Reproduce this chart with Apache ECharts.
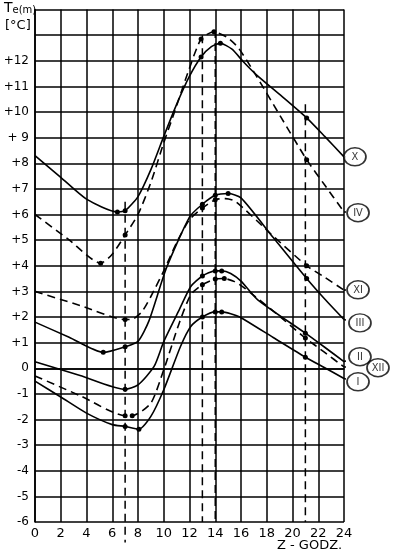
<!DOCTYPE html>
<html>
<head>
<meta charset="utf-8">
<script src="https://cdn.jsdelivr.net/npm/echarts@6/dist/echarts.min.js"></script>
<style>html,body{margin:0;padding:0;background:#fff}#c{width:395px;height:556px}</style>
</head>
<body>
<div id="c"></div>
<script>
// ---- data ----
const xTickLabels = ['0','2','4','6','8','10','12','14','16','18','20','22','24'];
const yTickLabels = ['-6','-5','-4','-3','-2','-1','0','+1','+2','+3','+4','+5','+6','+7','+8','+ 9','+10','+11','+12','',''];

const xX  = [0, 2, 4, 6.4, 7, 8, 9, 10, 11, 12, 12.9, 13.7, 14.4, 15.3, 16.2, 17.2, 19.2, 21.1, 22.5, 24];
const yX  = [8.3, 7.45, 6.6, 6.1, 6.15, 6.7, 7.75, 9.05, 10.3, 11.4, 12.15, 12.55, 12.68, 12.45, 11.95, 11.45, 10.6, 9.77, 9.05, 8.25];
const mX  = [6.4, 7, 12.9, 14.4, 21.1];

const xIV = [0, 2.55, 5.1, 6, 7, 8, 9, 10, 10.8, 11.85, 12.9, 13.9, 14.9, 15.8, 17.2, 19.1, 21.1, 22.5, 24];
const yIV = [6.0, 5.05, 4.1, 4.45, 5.2, 6.0, 7.25, 8.8, 9.95, 11.5, 12.85, 13.13, 12.92, 12.5, 11.4, 9.8, 8.14, 7.15, 6.1];
const mIV = [5.1, 7, 12.9, 13.9, 21.1];

const xXI = [0, 3.5, 7, 7.6, 8.3, 9, 10, 11, 12, 13, 14, 14.8, 15.6, 18.3, 21.1, 22.5, 24];
const yXI = [3.0, 2.45, 1.9, 1.92, 2.2, 2.8, 3.8, 4.9, 5.8, 6.25, 6.58, 6.62, 6.5, 5.25, 4.0, 3.55, 3.05];
const mXI = [7, 13, 14, 21.1];

const xIII = [0, 2.65, 5.3, 7, 8, 8.85, 10.2, 12, 13, 14, 15, 16, 18.5, 21.1, 22.5, 24];
const yIII = [1.8, 1.21, 0.62, 0.84, 1.05, 1.85, 3.9, 5.9, 6.4, 6.75, 6.82, 6.65, 5.1, 3.5, 2.7, 1.9];
const mIII = [5.3, 7, 13, 14, 15, 21.1];

const xII = [0, 3.5, 7, 8, 9.25, 10, 11.2, 12.1, 13, 14, 14.5, 15.2, 16, 17.3, 21, 22.5, 24];
const yII = [0.25, -0.28, -0.82, -0.65, 0.07, 1.04, 2.28, 3.19, 3.6, 3.8, 3.8, 3.7, 3.4, 2.67, 1.37, 0.82, 0.26];
const mII = [7, 13, 14, 14.5, 21];

const xXII = [0, 3.5, 7, 7.55, 9, 10, 11.2, 12.1, 13, 14, 14.7, 15.5, 16.3, 18.7, 21, 22.5, 24];
const yXII = [-0.3, -1.07, -1.85, -1.85, -1.36, -0.06, 1.76, 2.87, 3.26, 3.48, 3.5, 3.38, 3.12, 2.15, 1.18, 0.62, 0.05];
const mXII = [7, 7.55, 13, 14, 14.7, 21];

const xI = [0, 2, 4, 6, 7, 8.07, 9, 10, 11.3, 12.1, 13, 14, 14.5, 15.2, 15.9, 18.5, 21, 22.5, 24];
const yI = [-0.5, -1.12, -1.75, -2.2, -2.27, -2.38, -1.88, -0.84, 0.85, 1.63, 2.0, 2.2, 2.2, 2.13, 2.0, 1.2, 0.43, 0.02, -0.4];
const mI = [7, 8.07, 13, 14, 14.5, 21];

// month labels (circles at the right end)
const labelNames = ['X', 'IV', 'XI', 'III', 'II', 'XII', 'I'];
const labelX = [24.85, 25.09, 25.09, 25.24, 25.24, 26.64, 25.09];
const labelY = [8.25, 6.07, 3.06, 1.77, 0.45, 0.02, -0.53];

// vertical dashed reference lines
const refX = [7, 13, 14, 21];
const refTop = [6.5, 13.0, 13.2, 10.3];
const refBottom = [-6.8, -6, -6, -6];

// ---- chart ----
const DASH = [8, 5];
const series = [];
function curve(xs, ys, marks, dashed, li) {
  const data = xs.map((x, i) => {
    const m = marks.indexOf(x) >= 0;
    return {value: [x, ys[i]], symbol: m ? 'circle' : 'none', symbolSize: m ? 5 : 0};
  });
  const ls = {color: '#000', width: 1.6, type: dashed ? DASH : 'solid'};
  series.push({
    type: 'line', data: data, smooth: 0.22, clip: false, showSymbol: true,
    itemStyle: {color: '#000'}, lineStyle: ls, z: 3
  });
  // connector from the end of the curve to its label circle
  series.push({
    type: 'line', data: [[xs[xs.length - 1], ys[ys.length - 1]], [labelX[li], labelY[li]]],
    symbol: 'none', clip: false, lineStyle: ls, z: 3
  });
}
curve(xX, yX, mX, false, 0);
curve(xIV, yIV, mIV, true, 1);
curve(xXI, yXI, mXI, true, 2);
curve(xIII, yIII, mIII, false, 3);
curve(xII, yII, mII, false, 4);
curve(xXII, yXII, mXII, true, 5);
curve(xI, yI, mI, false, 6);

refX.forEach((x, i) => {
  series.push({
    type: 'line', data: [[x, refTop[i]], [x, refBottom[i]]], symbol: 'none', clip: false,
    lineStyle: {color: '#000', width: 1.5, type: DASH}, z: 2
  });
});
series.push({
  type: 'scatter', clip: false, z: 5,
  data: labelNames.map((n, i) => ({value: [labelX[i], labelY[i]], name: n})),
  symbol: 'circle', symbolSize: [22, 18],
  itemStyle: {color: '#fff', borderColor: '#000', borderWidth: 1.6},
  label: {show: true, position: 'inside', formatter: p => p.name, color: '#000',
          fontFamily: 'DejaVu Sans Condensed, DejaVu Sans', fontSize: 11}
});

const chart = echarts.init(document.getElementById('c'), null, {renderer: 'canvas'});
chart.setOption({
  animation: false,
  backgroundColor: '#fff',
  grid: {left: 35, right: 51, top: 9.5, bottom: 34},
  xAxis: {
    type: 'value', min: 0, max: 24, interval: 2,
    axisLine: {show: true, lineStyle: {color: '#000', width: 1.6}},
    axisTick: {show: false},
    splitLine: {show: true, lineStyle: {color: '#000', width: 1.5}},
    axisLabel: {color: '#000', fontSize: 13, margin: 5, fontFamily: 'DejaVu Sans',
                formatter: v => xTickLabels[Math.round(v / 2)]}
  },
  yAxis: {
    type: 'value', min: -6, max: 14, interval: 1,
    axisLine: {show: true, lineStyle: {color: '#000', width: 1.6}},
    axisTick: {show: false},
    splitLine: {show: true, lineStyle: {color: '#000', width: 1.5}},
    axisLabel: {color: '#000', fontSize: 12, margin: 6, fontFamily: 'DejaVu Sans',
                formatter: v => yTickLabels[Math.round(v + 6)]}
  },
  graphic: [
    {type: 'text', left: 4, top: 1, style: {
      text: '{t|T}{s|e(m)}', rich: {
        t: {fontSize: 14, fontFamily: 'DejaVu Sans', fill: '#000'},
        s: {fontSize: 10, fontFamily: 'DejaVu Sans', fill: '#000', padding: [4, 0, 0, 0]}
      }}},
    {type: 'text', left: 5, top: 19, style: {text: '[°C]', font: '13px DejaVu Sans', fill: '#000'}},
    {type: 'text', left: 277, top: 539, style: {text: 'Z - GODZ.', font: '13px DejaVu Sans', fill: '#000'}}
  ],
  series: series
});
</script>
</body>
</html>
